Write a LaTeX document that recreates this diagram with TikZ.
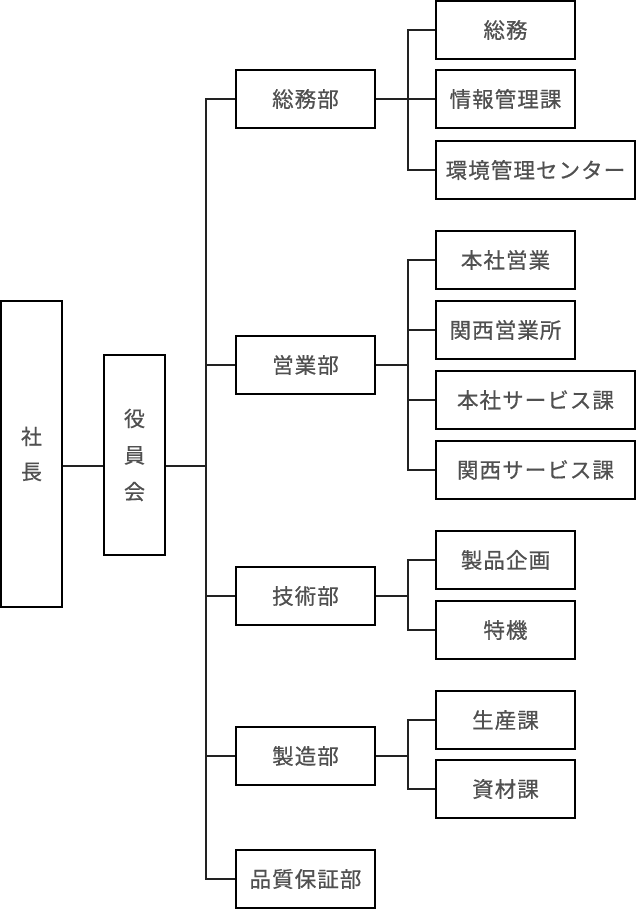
\documentclass[tikz,border=0pt]{standalone}
\usepackage{fontspec}
\setmainfont{Noto Sans CJK JP}[LetterSpace=5,FakeBold=0.6]
\definecolor{txt}{HTML}{505050}
\definecolor{ln}{HTML}{222222}
\begin{document}
\begin{tikzpicture}[x=1pt,y=-1pt,
  box/.style={draw=black,line width=2pt,fill=white,text=txt,inner sep=0pt,
    font=\fontsize{21.5}{24}\selectfont,minimum height=58pt,anchor=center},
  dept/.style={box,minimum width=139pt},
  sub/.style={box,minimum width=139pt},
  wsub/.style={box,minimum width=199pt},
  conn/.style={draw=ln,line width=1.6pt,line join=miter}]
\useasboundingbox[fill=white] (0,0) rectangle (636,909);

\node[box,minimum width=61pt,minimum height=306pt,align=center,font=\fontsize{21}{35}\selectfont] (shacho) at (31.5,454) {社\\長};
\node[box,minimum width=61pt,minimum height=200pt,align=center,font=\fontsize{21}{36.5}\selectfont] (yakuin) at (134.5,455) {役\\員\\会};

\node[dept] (somu) at (305.5,99) {総務部};
\node[dept] (eigyo) at (305.5,365) {営業部};
\node[dept] (gijutsu) at (305.5,596) {技術部};
\node[dept] (seizo) at (305.5,756) {製造部};
\node[dept] (hinshitsu) at (305.5,879) {品質保証部};

\node[sub] (s1) at (505.5,30) {総務};
\node[sub] (s2) at (505.5,99) {情報管理課};
\node[wsub] (s3) at (535.5,170) {環境管理センター};
\node[sub] (e1) at (505.5,260) {本社営業};
\node[sub] (e2) at (505.5,330) {関西営業所};
\node[wsub] (e3) at (535.5,400) {本社サービス課};
\node[wsub] (e4) at (535.5,470) {関西サービス課};
\node[sub] (g1) at (505.5,560) {製品企画};
\node[sub] (g2) at (505.5,630) {特機};
\node[sub] (m1) at (505.5,720) {生産課};
\node[sub] (m2) at (505.5,789) {資材課};

\path[conn] ([yshift=-11pt]yakuin.west -| shacho.east) -- ([yshift=-11pt]yakuin.west);
\foreach \d in {somu,eigyo,gijutsu,seizo,hinshitsu}
  \path[conn] ([yshift=-11pt]yakuin.east) -- ++(40,0) |- (\d.west);
\foreach \s in {s1,s2,s3} \path[conn] (somu.east) -- ++(32,0) |- (\s.west);
\foreach \s in {e1,e2,e3,e4} \path[conn] (eigyo.east) -- ++(32,0) |- (\s.west);
\foreach \s in {g1,g2} \path[conn] (gijutsu.east) -- ++(32,0) |- (\s.west);
\foreach \s in {m1,m2} \path[conn] (seizo.east) -- ++(32,0) |- (\s.west);
\end{tikzpicture}
\end{document}
